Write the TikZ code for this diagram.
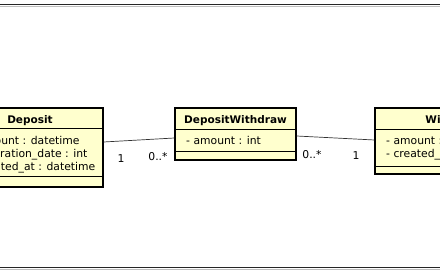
\documentclass[tikz,border=0pt]{standalone}
\usepackage{fontspec}
\setmainfont{DejaVu Sans}
\usetikzlibrary{positioning}
\definecolor{clsfill}{RGB}{255,255,206}

\begin{document}
\begin{tikzpicture}[x=1pt, y=-1pt,
  every node/.style={font=\fontsize{10.8}{13}\selectfont},
  cls/.style={draw, fill=clsfill, line width=1.2pt, inner sep=0pt},
  divider/.style={line width=1.2pt},
  title/.style={font=\fontsize{10.5}{13}\selectfont\bfseries, inner sep=0pt, anchor=base},
  attr/.style={inner sep=0pt, anchor=base west},
  assoc/.style={draw=black!80, line width=0.7pt},
  mult/.style={inner sep=0pt, anchor=base},
  frame/.style={draw=black!85, line width=1pt}]

\useasboundingbox (0,0) rectangle (440,280);

% diagram frame
\draw[black!25, line width=0.8pt] (0,6.2) -- (440,6.2);
\draw[frame] (0,5) -- (440,5);
\draw[black!25, line width=0.8pt] (0,269.4) -- (440,269.4);
\draw[frame] (0,268) -- (440,268);

% classes
\node[cls, minimum width=143pt, minimum height=79pt] (deposit) at (31.5,147.5) {};
\node[cls, minimum width=121pt, minimum height=52pt] (depwd) at (235.5,134) {};
\node[cls, minimum width=158pt, minimum height=66pt] (withdraw) at (454,141) {};

\draw[divider] ([yshift=-21pt]deposit.north west) -- ([yshift=-21pt]deposit.north east);
\draw[divider] ([yshift=11pt]deposit.south west) -- ([yshift=11pt]deposit.south east);
\draw[divider] ([yshift=-22pt]depwd.north west) -- ([yshift=-22pt]depwd.north east);
\draw[divider] ([yshift=9pt]depwd.south west) -- ([yshift=9pt]depwd.south east);
\draw[divider] ([yshift=-22pt]withdraw.north west) -- ([yshift=-22pt]withdraw.north east);
\draw[divider] ([yshift=8pt]withdraw.south west) -- ([yshift=8pt]withdraw.south east);

\node[title] (depositname) at (30,123.5) {Deposit};
\node[title] (depwdname) at (235.5,123.5) {DepositWithdraw};
\node[title] (withdrawname) at (454,123.5) {Withdraw};

\node[attr] (depamount) at (-30,144.5) {- amount : datetime};
\node[attr] (depexpire) at (-30,157.5) {- expiration\_date : int};
\node[attr] (depcreated) at (-30,170.5) {- created\_at : datetime};
\node[attr] (dwamount) at (186,144.5) {- amount : int};
\node[attr] (wdamount) at (386,144.5) {- amount : int};
\node[attr] (wdcreated) at (386,157.5) {- created\_at : datetime};

% associations
\draw[assoc] ([yshift=5.5pt]deposit.east) -- ([yshift=-4pt]depwd.west);
\draw[assoc] ([yshift=-2pt]depwd.east) -- ([yshift=1pt]withdraw.west);

\node[mult] (m1) at (121,162.5) {1};
\node[mult] (m2) at (158,161) {0..*};
\node[mult] (m3) at (312,158.5) {0..*};
\node[mult] (m4) at (356,160) {1};
\end{tikzpicture}
\end{document}
